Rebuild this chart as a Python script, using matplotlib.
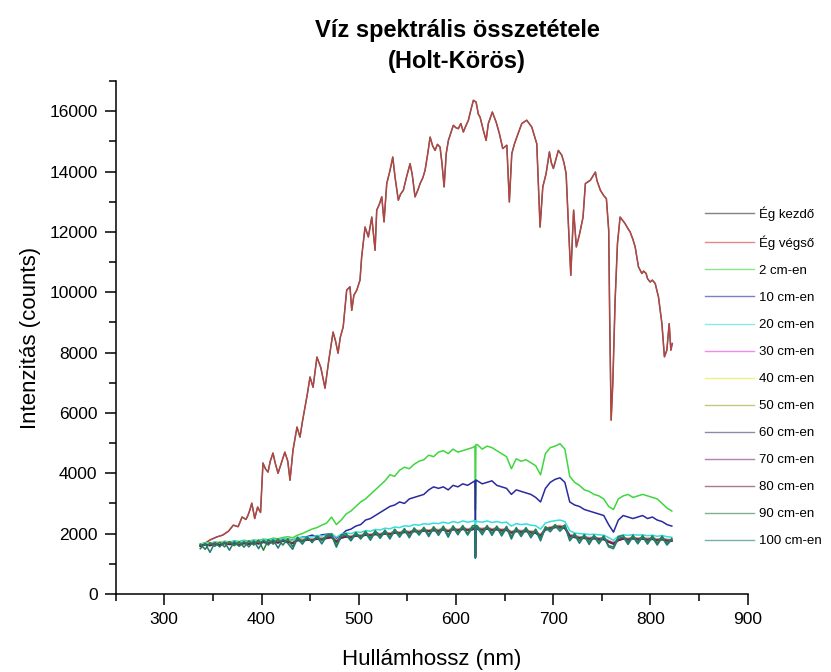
import matplotlib
matplotlib.use("Agg")
import matplotlib.pyplot as plt
from matplotlib.ticker import MultipleLocator

plt.rcParams['font.family'] = ['Liberation Sans', 'DejaVu Sans']

# ---------------- data ----------------
# Sky spectrum (Ég végső / Ég kezdő)
sky_wl = [337, 342, 347, 354, 360, 366, 371, 376, 380, 384, 386, 388, 390, 393, 396, 399,
          401.5, 404, 406.7, 409, 411.8, 414, 417, 420, 424, 427, 429.3, 432.4, 436.5, 439.6,
          442, 444.7, 447, 449.9, 453, 457, 461, 465.3, 469, 473.6, 476, 478.7, 481, 484,
          487.6, 491, 492.8, 495, 498, 501.3, 503, 506.5, 509.9, 513.4, 516.8, 518.5, 521,
          523.7, 526, 528.8, 532.2, 535, 537.3, 540.7, 543, 545.9, 549, 552.8, 555, 557.9,
          561, 563.1, 566, 568.2, 571, 573.4, 576, 578.5, 581, 583.6, 585.5, 587.8, 590,
          592.2, 595, 597.3, 600, 602.5, 605, 607.6, 610, 612.8, 615, 617.9, 620.7, 623,
          624.8, 628.2, 631, 633.3, 635, 637.4, 641.3, 644.7, 648.1, 652.3, 654.9, 657.4,
          660, 662.6, 667.7, 672.8, 678, 683.1, 685, 686.5, 689.3, 692.7, 696.1, 698, 700.2,
          705.3, 708.8, 711, 713.3, 715.6, 718.1, 721, 723.8, 727.2, 730.7, 733.1, 738.2,
          743.4, 745, 748.5, 752, 754.7, 757.1, 758.1, 759.6, 761.3, 763.7, 766.1, 768.8,
          771, 774, 777, 779.1, 782, 784.3, 787.7, 791.2, 793, 795.6, 797, 799.7, 802, 804.9,
          808.3, 811.8, 814.4, 816.9, 819.3, 821, 822.5]
sky_end = [1620, 1680, 1790, 1890, 1950, 2080, 2280, 2230, 2550, 2470, 2600, 2780, 3010, 2500,
           2880, 2700, 4340, 4150, 4040, 4400, 4670, 4350, 4000, 4300, 4700, 4400, 3770, 4770,
           5530, 5200, 5700, 6190, 6600, 7190, 6850, 7850, 7500, 6820, 7700, 8680, 8400, 7980,
           8500, 8850, 10070, 10180, 9400, 9900, 10070, 10400, 11170, 12160, 11830, 12490,
           11390, 12720, 12900, 13160, 12330, 13600, 14040, 14480, 13820, 13050, 13250, 13380,
           13800, 14260, 13900, 13160, 13400, 13600, 13800, 14040, 14600, 15140, 14850, 14700,
           14900, 14810, 14300, 13490, 14600, 15030, 15300, 15530, 15450, 15420, 15590, 15310,
           15500, 15700, 16000, 16360, 16300, 15900, 15800, 15360, 15030, 15590, 15750, 15970,
           15640, 15250, 14760, 14870, 12990, 14590, 14900, 15140, 15590, 15700, 15470, 14920,
           13380, 12160, 13490, 13930, 14650, 14300, 14100, 14700, 14540, 14300, 13930, 12270,
           10560, 12720, 11500, 11940, 12490, 13600, 13710, 13980, 13700, 13380, 13200, 13100,
           12050, 9180, 5760, 6980, 9740, 11610, 12490, 12400, 12270, 12100, 12000, 11750,
           11500, 10840, 10620, 10700, 10620, 10450, 10340, 10400, 10290, 9840, 8960, 7860,
           8080, 8960, 8080, 8300]
sky_start = sky_end  # the two sky curves coincide in the picture

# Water-depth spectra, sampled on a common wavelength list
wl_low = list(range(337, 618, 5)) + [619.5, 620.0, 620.5] + list(range(622, 823, 5))

d2 = [1650, 1700, 1680, 1720, 1700, 1750, 1720, 1760, 1740, 1780,
      1750, 1790, 1770, 1820, 1800, 1850, 1830, 1870, 1900, 1860,
      1950, 2000, 2080, 2150, 2200, 2280, 2350, 2550, 2300, 2450,
      2650, 2750, 2900, 3050, 3150, 3300, 3450, 3600, 3750, 3950,
      3900, 4100, 4200, 4150, 4300, 4400, 4450, 4600, 4550, 4700,
      4750, 4650, 4800, 4700, 4750, 4800, 4850,
      4900, 2800, 4950,
      4950, 4800, 4900, 4850, 4750, 4650, 4550, 4150, 4480, 4400,
      4450, 4350, 4250, 3950, 4650, 4850, 4900, 4980, 4800, 3900,
      3700, 3600, 3450, 3400, 3300, 3250, 3150, 2900, 2800, 3150,
      3250, 3300, 3200, 3250, 3300, 3250, 3200, 3150, 3000, 2850, 2750]
d10 = [1620, 1660, 1640, 1690, 1670, 1710, 1690, 1720, 1700, 1740,
       1720, 1750, 1730, 1770, 1750, 1790, 1770, 1800, 1820, 1790,
       1850, 1880, 1900, 1950, 1900, 1960, 1980, 2000, 1850, 1950,
       2100, 2150, 2250, 2300, 2450, 2500, 2600, 2700, 2800, 2900,
       2950, 3050, 3000, 3150, 3200, 3250, 3300, 3450, 3550, 3500,
       3550, 3450, 3600, 3550, 3650, 3600, 3700,
       3750, 2400, 3780,
       3750, 3650, 3700, 3750, 3600, 3550, 3500, 3300, 3450, 3400,
       3350, 3300, 3200, 3050, 3500, 3700, 3800, 3850, 3700, 3050,
       2950, 2900, 2800, 2750, 2700, 2650, 2600, 2300, 2050, 2450,
       2600, 2550, 2500, 2550, 2600, 2500, 2550, 2450, 2400, 2300, 2250]
d20 = [1650, 1700, 1680, 1720, 1690, 1740, 1710, 1750, 1720, 1760,
       1740, 1780, 1750, 1800, 1770, 1820, 1790, 1840, 1810, 1780,
       1880, 1860, 1900, 1890, 1940, 1920, 1960, 2000, 1880, 1980,
       2020, 2000, 2060, 2040, 2100, 2080, 2140, 2120, 2180, 2160,
       2220, 2200, 2260, 2240, 2300, 2280, 2330, 2310, 2350, 2330,
       2380, 2340, 2400, 2360, 2420, 2380, 2410,
       2430, 1500, 2420,
       2400, 2380, 2420, 2370, 2400, 2360, 2380, 2250, 2330, 2300,
       2320, 2280, 2260, 2150, 2350, 2400, 2430, 2450, 2400, 2100,
       2020, 2000, 1990, 1970, 1980, 1960, 1950, 1870, 1780, 1920,
       1960, 1940, 1970, 1950, 1960, 1930, 1950, 1910, 1940, 1900, 1880]
d30 = [1620, 1660, 1640, 1700, 1660, 1710, 1680, 1700, 1670, 1720,
       1690, 1730, 1700, 1750, 1720, 1770, 1740, 1790, 1760, 1720,
       1820, 1800, 1840, 1820, 1870, 1850, 1890, 1920, 1780, 1900,
       1940, 1920, 1970, 1950, 2000, 1980, 2020, 2000, 2040, 2020,
       2070, 2050, 2090, 2070, 2120, 2100, 2140, 2120, 2150, 2130,
       2170, 2120, 2180, 2150, 2190, 2160, 2180,
       2200, 1300, 2200,
       2190, 2170, 2200, 2160, 2180, 2140, 2160, 2070, 2120, 2100,
       2120, 2080, 2060, 1970, 2170, 2220, 2250, 2270, 2220, 1970,
       1920, 1900, 1890, 1870, 1880, 1860, 1850, 1770, 1700, 1820,
       1870, 1840, 1880, 1850, 1870, 1840, 1860, 1820, 1850, 1810, 1800]
d40 = [1630, 1670, 1650, 1690, 1660, 1720, 1670, 1710, 1660, 1720,
       1700, 1740, 1700, 1760, 1710, 1780, 1730, 1800, 1760, 1720,
       1830, 1790, 1840, 1810, 1870, 1840, 1880, 1920, 1770, 1890,
       1940, 1910, 1960, 1940, 2000, 1970, 2020, 1990, 2040, 2010,
       2070, 2040, 2090, 2060, 2120, 2090, 2140, 2110, 2150, 2120,
       2170, 2110, 2180, 2140, 2190, 2150, 2180,
       2190, 1280, 2190,
       2190, 2160, 2200, 2150, 2180, 2130, 2160, 2060, 2110, 2090,
       2120, 2070, 2050, 1960, 2170, 2210, 2250, 2260, 2210, 1960,
       1910, 1890, 1880, 1860, 1870, 1850, 1840, 1760, 1690, 1810,
       1860, 1830, 1870, 1840, 1860, 1830, 1850, 1810, 1840, 1800, 1790]
d50 = [1610, 1640, 1620, 1670, 1630, 1690, 1650, 1680, 1640, 1690,
       1670, 1710, 1680, 1730, 1690, 1750, 1710, 1770, 1740, 1690,
       1790, 1770, 1810, 1790, 1840, 1820, 1860, 1890, 1740, 1870,
       1910, 1890, 1940, 1920, 1970, 1950, 1990, 1970, 2010, 1990,
       2040, 2020, 2060, 2040, 2090, 2070, 2110, 2090, 2120, 2100,
       2140, 2090, 2150, 2120, 2160, 2130, 2150,
       2170, 1240, 2170,
       2160, 2140, 2170, 2130, 2150, 2110, 2130, 2040, 2090, 2070,
       2090, 2050, 2030, 1940, 2140, 2190, 2220, 2240, 2190, 1940,
       1890, 1870, 1860, 1840, 1850, 1830, 1820, 1740, 1670, 1790,
       1840, 1810, 1850, 1820, 1840, 1810, 1830, 1790, 1820, 1780, 1770]
d60 = [1590, 1630, 1610, 1660, 1620, 1680, 1640, 1670, 1630, 1680,
       1660, 1700, 1670, 1720, 1680, 1740, 1700, 1760, 1730, 1680,
       1780, 1760, 1800, 1780, 1830, 1810, 1850, 1880, 1730, 1860,
       1900, 1880, 1930, 1910, 1960, 1940, 1980, 1960, 2000, 1980,
       2030, 2010, 2050, 2030, 2080, 2060, 2100, 2080, 2110, 2090,
       2130, 2080, 2140, 2110, 2150, 2120, 2140,
       2160, 1230, 2160,
       2150, 2130, 2160, 2120, 2140, 2100, 2120, 2030, 2080, 2060,
       2080, 2040, 2020, 1930, 2130, 2180, 2210, 2230, 2180, 1930,
       1880, 1860, 1850, 1830, 1840, 1820, 1810, 1730, 1660, 1780,
       1830, 1800, 1840, 1810, 1830, 1800, 1820, 1780, 1810, 1770, 1760]
d70 = [1600, 1660, 1610, 1690, 1630, 1710, 1650, 1700, 1640, 1710,
       1670, 1730, 1680, 1750, 1690, 1770, 1710, 1790, 1740, 1690,
       1810, 1770, 1830, 1790, 1860, 1820, 1880, 1910, 1740, 1890,
       1930, 1890, 1960, 1920, 1990, 1950, 2010, 1970, 2030, 1990,
       2060, 2020, 2080, 2040, 2110, 2070, 2130, 2090, 2140, 2100,
       2160, 2090, 2170, 2120, 2180, 2130, 2170,
       2190, 1260, 2190,
       2180, 2140, 2190, 2130, 2170, 2110, 2150, 2040, 2110, 2070,
       2110, 2050, 2050, 1940, 2160, 2190, 2240, 2240, 2210, 1940,
       1910, 1870, 1880, 1840, 1870, 1830, 1840, 1740, 1690, 1790,
       1860, 1810, 1870, 1820, 1860, 1810, 1850, 1790, 1840, 1780, 1790]
d80 = [1580, 1640, 1600, 1650, 1620, 1670, 1640, 1660, 1620, 1670,
       1650, 1690, 1660, 1710, 1670, 1730, 1690, 1750, 1720, 1670,
       1770, 1750, 1790, 1770, 1820, 1800, 1840, 1870, 1720, 1850,
       1890, 1870, 1920, 1900, 1950, 1930, 1970, 1950, 1990, 1970,
       2020, 2000, 2040, 2020, 2070, 2050, 2090, 2070, 2100, 2080,
       2120, 2070, 2130, 2100, 2140, 2110, 2130,
       2150, 1220, 2150,
       2140, 2120, 2150, 2110, 2130, 2090, 2110, 2020, 2070, 2050,
       2070, 2030, 2010, 1920, 2120, 2170, 2200, 2220, 2170, 1920,
       1870, 1850, 1840, 1820, 1830, 1810, 1800, 1720, 1650, 1770,
       1820, 1790, 1830, 1800, 1820, 1790, 1810, 1770, 1800, 1760, 1750]
d90 = [1650, 1480, 1700, 1580, 1720, 1560, 1740, 1600, 1730, 1550,
       1760, 1620, 1790, 1450, 1800, 1650, 1820, 1620, 1830, 1560,
       1880, 1720, 1900, 1700, 1920, 1760, 1950, 1990, 1600, 1960,
       2000, 1800, 2040, 1860, 2080, 1850, 2100, 1900, 2120, 1880,
       2150, 1950, 2170, 1920, 2190, 2000, 2210, 1960, 2230, 2010,
       2250, 1950, 2260, 2020, 2270, 2000, 2260,
       2280, 1200, 2260,
       2260, 2030, 2270, 2010, 2250, 1990, 2240, 1900, 2200, 1960,
       2200, 1940, 2150, 1850, 2230, 2120, 2300, 2150, 2290, 1820,
       2000, 1760, 1970, 1720, 1950, 1730, 1930, 1600, 1560, 1900,
       1940, 1700, 1950, 1720, 1940, 1700, 1930, 1680, 1920, 1670, 1840]
d100 = [1500, 1680, 1380, 1700, 1560, 1720, 1450, 1740, 1580, 1730,
        1560, 1760, 1500, 1780, 1620, 1800, 1520, 1810, 1680, 1480,
        1840, 1650, 1870, 1720, 1900, 1660, 1920, 1940, 1550, 1910,
        1950, 1760, 1990, 1820, 2020, 1780, 2050, 1840, 2070, 1820,
        2100, 1880, 2120, 1860, 2140, 1950, 2160, 1900, 2180, 1940,
        2190, 1880, 2210, 1960, 2220, 1950, 2200,
        2230, 1180, 2220,
        2200, 1960, 2230, 1940, 2210, 1920, 2190, 1820, 2160, 1900,
        2150, 1860, 2100, 1760, 2190, 2060, 2260, 2080, 2250, 1760,
        1960, 1680, 1930, 1640, 1910, 1660, 1890, 1560, 1500, 1840,
        1890, 1640, 1900, 1660, 1890, 1650, 1880, 1620, 1870, 1620, 1800]

depth_labels = ["2 cm-en", "10 cm-en", "20 cm-en", "30 cm-en", "40 cm-en", "50 cm-en",
                "60 cm-en", "70 cm-en", "80 cm-en", "90 cm-en", "100 cm-en"]
depth_series = [d2, d10, d20, d30, d40, d50, d60, d70, d80, d90, d100]
depth_colors = ["#3fd63f", "#2a2aa0", "#35dede", "#e040e0", "#e6e630", "#a0a030",
                "#404070", "#803080", "#702040", "#2f7f3f", "#1f7a7a"]

x_ticks = [300, 400, 500, 600, 700, 800, 900]
y_ticks = [0, 2000, 4000, 6000, 8000, 10000, 12000, 14000, 16000]

# ---------------- figure ----------------
fig = plt.figure(figsize=(8.31, 6.72), dpi=100)
ax = fig.add_axes([0.1392, 0.1161, 0.7605, 0.7634])

ax.plot(sky_wl, sky_start, color="#303030", lw=1.1, alpha=0.8, label="Ég kezdő")
ax.plot(sky_wl, sky_end, color="#c8403c", lw=0.9, alpha=0.9, label="Ég végső")
for vals, lab, col in zip(depth_series, depth_labels, depth_colors):
    n = min(len(vals), len(wl_low))
    ax.plot(wl_low[:n], vals[:n], color=col, lw=1.1, label=lab)

ax.set_xlim(250, 900)
ax.set_ylim(0, 17000)
ax.set_xticks(x_ticks)
ax.set_yticks(y_ticks)
ax.xaxis.set_minor_locator(MultipleLocator(50))
ax.yaxis.set_minor_locator(MultipleLocator(1000))
ax.tick_params(which="major", direction="out", length=8, width=1.1, labelsize=12.5, pad=5)
ax.tick_params(which="minor", direction="out", length=5, width=1.1)
for s in ["top", "right"]:
    ax.spines[s].set_visible(False)
for s in ["left", "bottom"]:
    ax.spines[s].set_linewidth(1.1)

ax.set_xlabel("Hullámhossz (nm)", fontsize=16)
ax.set_ylabel("Intenzitás (counts)", fontsize=16)
ax.xaxis.set_label_coords(0.5, -0.107)
ax.yaxis.set_label_coords(-0.118, 0.5)

fig.text(0.55, 0.955, "Víz spektrális összetétele", ha="center", va="center",
         fontsize=17, fontweight="bold")
fig.text(0.55, 0.908, "(Holt-Körös)", ha="center", va="center",
         fontsize=17, fontweight="bold")

leg = ax.legend(loc="upper left", bbox_to_anchor=(0.848, 0.693),
                bbox_transform=fig.transFigure, frameon=False, fontsize=9.5,
                borderpad=0, borderaxespad=0, labelspacing=1.12,
                handlelength=3.7, handletextpad=0.45)
for h in leg.get_lines():
    h.set_linewidth(1.0)
    h.set_alpha(0.6)

fig.savefig("out.png", dpi=100)
